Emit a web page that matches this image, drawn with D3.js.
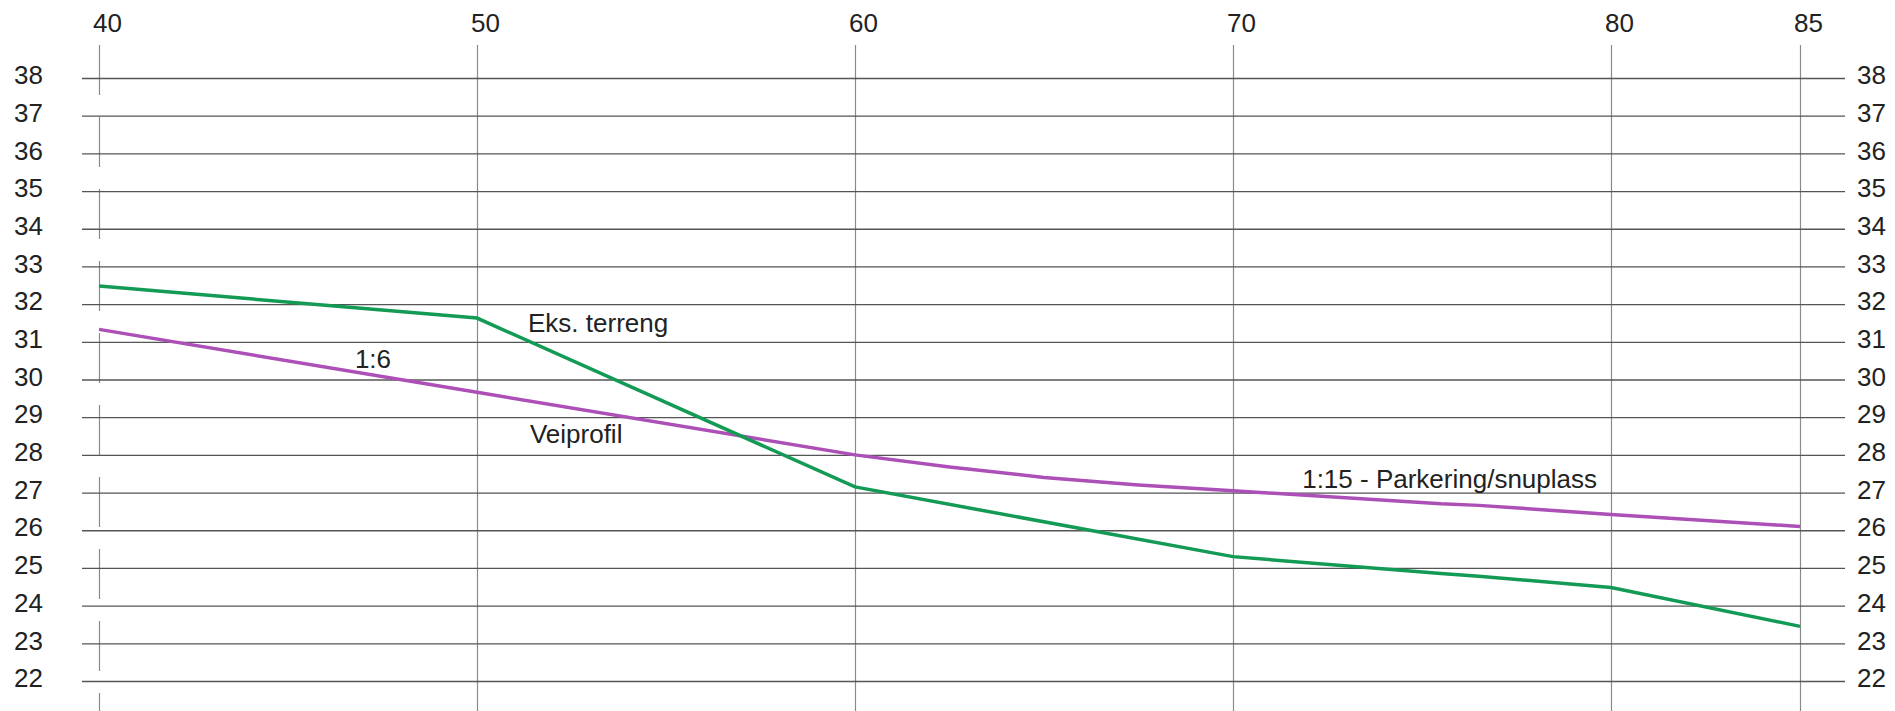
<!DOCTYPE html>
<head>
  <meta charset="utf-8">
  <script src="https://d3js.org/d3.v7.min.js"></script>
  <style>
    body { margin:0; background:#fff; }
    text { font-family: "Liberation Sans", Arial, sans-serif; }
  </style>
</head>
<body>
<div id="chart"></div>
<script>
  var width = 1895;
  var height = 711;
  var margin = {top: 78, right: 95, bottom: 30, left: 99};

  // profile stations (m) and elevations (moh)
  var xTicks = [40, 50, 60, 70, 80, 85];
  var yTicks = [22, 23, 24, 25, 26, 27, 28, 29, 30, 31, 32, 33, 34, 35, 36, 37, 38];

  // Eks. terreng (existing ground)
  var terrengX = [40, 50, 60, 70, 75.5, 76.5, 80, 85];
  var terrengY = [32.48, 31.63, 27.15, 25.3, 24.85, 24.78, 24.48, 23.45];

  // Veiprofil (road profile)
  var veiX = [40, 50, 60, 62.5, 65, 67.5, 70, 75.5, 76.5, 80, 85];
  var veiY = [31.33, 29.66, 28.0, 27.68, 27.4, 27.2, 27.05, 26.7, 26.66, 26.42, 26.1];

  // text labels on the drawing
  var noteText = ["1:6", "Eks. terreng", "Veiprofil", "1:15 - Parkering/snuplass"];
  var noteX = [46.77, 51.35, 51.4, 71.83];
  var noteY = [30.31, 31.26, 28.32, 27.12];

  var x = d3.scaleLinear().domain([40, 85]).range([margin.left, width - margin.right]);
  var y = d3.scaleLinear().domain([22, 38]).range([height - margin.bottom, margin.top]);

  var svg = d3.select("#chart").append("svg")
    .attr("width", width)
    .attr("height", height);

  var gridLeft = x(40) - 17;
  var gridRight = x(85) + 45;
  var topLine = 45;

  // vertical lines + top labels
  var xAxis = d3.axisTop(x).tickValues(xTicks).tickSize(-(height - topLine)).tickPadding(13);
  var xg = svg.append("g")
    .attr("transform", "translate(0," + topLine + ")")
    .call(xAxis);
  xg.select(".domain").remove();
  xg.selectAll("line").attr("stroke", "#8a8a8a").attr("stroke-width", 1.2);
  xg.selectAll(".tick").filter(function(d){ return d === 40; }).select("line")
    .attr("stroke-dasharray", "50,22");
  xg.selectAll("text")
    .attr("dx", 8)
    .attr("font-size", "26px")
    .attr("fill", "#222");

  // horizontal grid + left labels
  var yAxisL = d3.axisLeft(y).tickValues(yTicks).tickSize(-(gridRight - gridLeft)).tickPadding(39);
  var yl = svg.append("g")
    .attr("transform", "translate(" + gridLeft + ",0)")
    .call(yAxisL);
  yl.select(".domain").remove();
  yl.selectAll("line").attr("stroke", "#555").attr("stroke-width", 1.3);
  yl.selectAll("text")
    .attr("dy", "0.22em")
    .attr("font-size", "26px")
    .attr("fill", "#222");

  // right labels
  var yAxisR = d3.axisRight(y).tickValues(yTicks).tickSize(0).tickPadding(12);
  var yr = svg.append("g")
    .attr("transform", "translate(" + gridRight + ",0)")
    .call(yAxisR);
  yr.select(".domain").remove();
  yr.selectAll("text")
    .attr("dy", "0.22em")
    .attr("font-size", "26px")
    .attr("fill", "#222");

  var line = d3.line()
    .x(function(d){ return x(d[0]); })
    .y(function(d){ return y(d[1]); });

  svg.append("path")
    .attr("d", line(d3.zip(veiX, veiY)))
    .attr("stroke", "#ac4fb6")
    .attr("stroke-width", 3.5)
    .attr("fill", "none");

  svg.append("path")
    .attr("d", line(d3.zip(terrengX, terrengY)))
    .attr("stroke", "#139a55")
    .attr("stroke-width", 3.5)
    .attr("fill", "none");

  svg.selectAll(".note")
    .data(d3.zip(noteText, noteX, noteY))
    .enter()
    .append("text")
    .attr("class", "note")
    .attr("x", function(d){ return x(d[1]); })
    .attr("y", function(d){ return y(d[2]); })
    .attr("font-size", "26px")
    .attr("fill", "#222")
    .text(function(d){ return d[0]; });
</script>
</body>
